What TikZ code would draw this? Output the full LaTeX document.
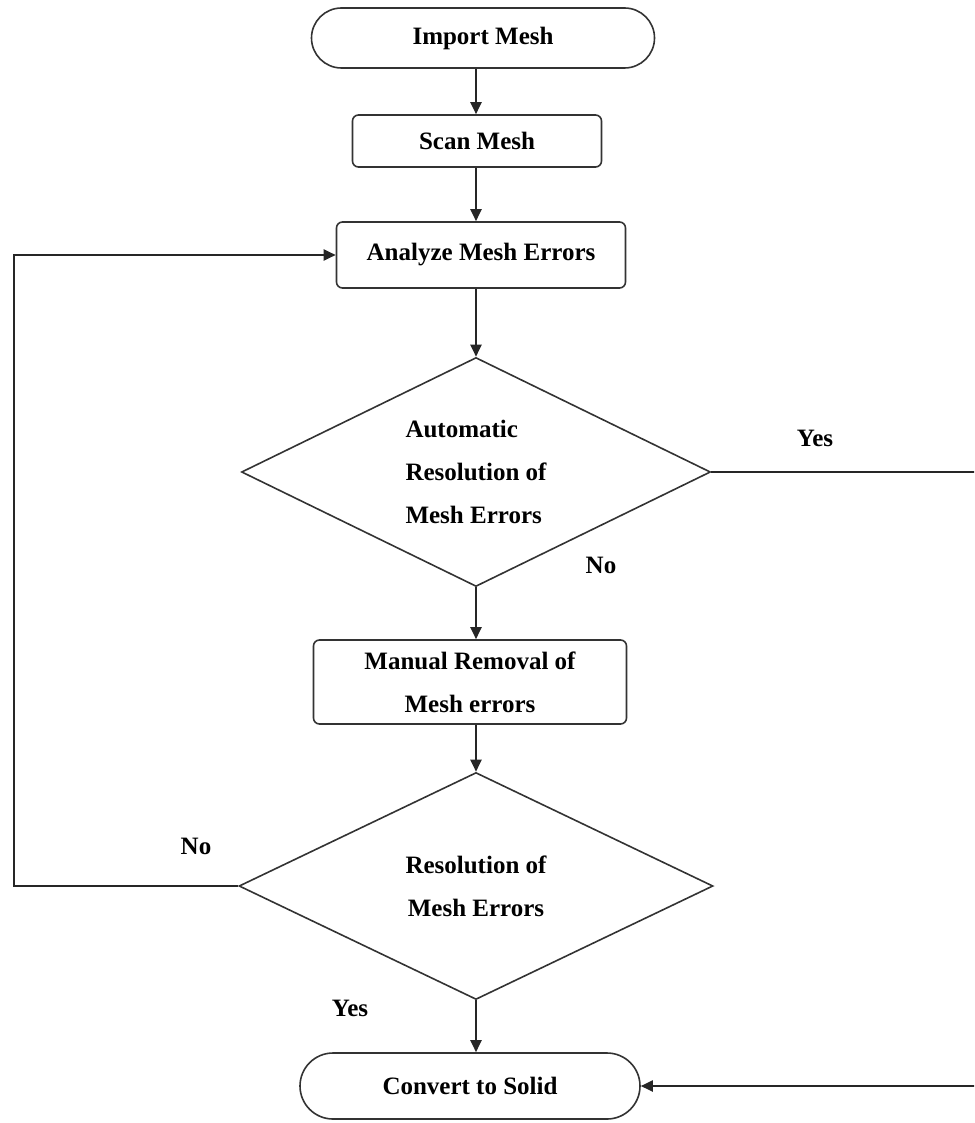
\documentclass[tikz,border=0pt]{standalone}
\usepackage{fontspec}
\setmainfont{Liberation Serif}
\usetikzlibrary{arrows.meta,shapes.geometric,shapes.misc,calc}
\begin{document}
\begin{tikzpicture}[x=1pt,y=-1pt,
  txt/.style={font=\bfseries\fontsize{25}{43}\selectfont},
  line/.style={line width=2pt, draw=black!85},
  arr/.style={line, -{Triangle[length=12pt,width=11pt]}},
  box/.style={txt, draw=black!80, line width=1.6pt, rounded corners=6pt, inner sep=0pt, align=center},
  term/.style={txt, draw=black!80, line width=1.6pt, rounded rectangle, inner sep=0pt},
  dec/.style={txt, draw=black!80, line width=1.6pt, diamond, aspect=2, inner sep=0pt}]
\clip (0,0) rectangle (974,1123);
\useasboundingbox (0,0) rectangle (974,1123);

\node[term, minimum width=343pt, minimum height=60pt] (imp) at (483,38) {Import Mesh};
\node[box, minimum width=249pt, minimum height=52pt] (scan) at (477,141) {Scan Mesh};
\node[box, minimum width=289pt, minimum height=66pt] (ana) at (481,255) {Analyze Mesh Errors};
\node[dec, minimum width=469pt, minimum height=229pt, align=left] (d1) at (476,472) {Automatic\\Resolution of\\Mesh Errors};
\node[box, minimum width=313pt, minimum height=84pt] (man) at (470,682) {Manual Removal of\\Mesh errors};
\node[dec, minimum width=474pt, minimum height=227pt, align=center] (d2) at (476,886) {Resolution of\\Mesh Errors};
\node[term, minimum width=340pt, minimum height=66pt] (conv) at (470,1086) {Convert to Solid};

\node[txt] (yes1) at (815,438) {Yes};
\node[txt] (no1) at (601,565) {No};
\node[txt] (no2) at (196,846) {No};
\node[txt] (yes2) at (350,1008) {Yes};

\coordinate (lx) at (14,0);
\coordinate (rx) at (980,0);

\draw[arr] (imp.south -| d1.north) -- (scan.north -| d1.north);
\draw[arr] (scan.south -| d1.north) -- (ana.north -| d1.north);
\draw[arr] (ana.south -| d1.north) -- (d1.north);
\draw[arr] (d1.south) -- (d1.south |- man.north);
\draw[arr] (man.south -| d2.north) -- (d2.north);
\draw[arr] (d2.south) -- (d2.south |- conv.north);
\draw[arr] (d2.west) -- (d2.west -| lx) |- (ana.west);
\draw[arr] (d1.east) -- (d1.east -| rx) |- (conv.east);
\end{tikzpicture}
\end{document}
